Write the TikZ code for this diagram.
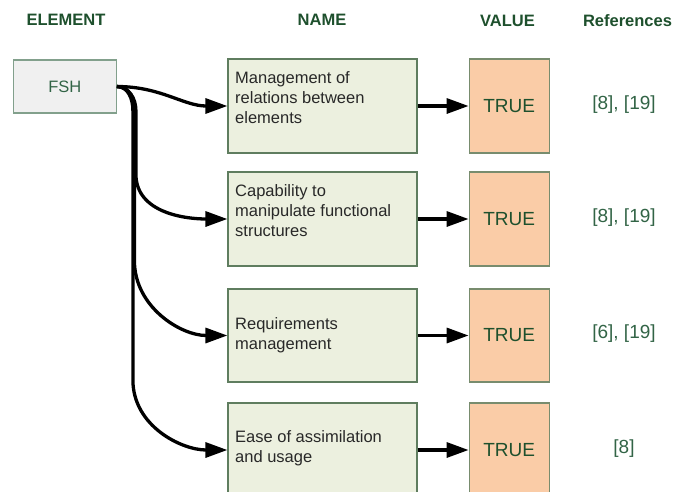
\documentclass[tikz,border=0pt]{standalone}
\usepackage{fontspec}
\setmainfont{Liberation Sans}
\usetikzlibrary{arrows.meta,calc,positioning}
\definecolor{headgreen}{RGB}{30,80,45}
\definecolor{textgreen}{RGB}{50,100,70}
\definecolor{textgrey}{RGB}{40,40,40}
\definecolor{elemfill}{RGB}{240,240,240}
\definecolor{elemline}{RGB}{130,160,140}
\definecolor{namefill}{RGB}{236,240,223}
\definecolor{nameline}{RGB}{95,125,95}
\definecolor{valuefill}{RGB}{250,204,167}
\definecolor{valueline}{RGB}{120,140,110}
\tikzset{
  head/.style={font=\bfseries\fontsize{16.5}{20}\selectfont, text=headgreen},
  elembox/.style={draw=elemline, fill=elemfill, line width=1.2pt,
    minimum width=103pt, minimum height=53pt,
    font=\fontsize{16.5}{20}\selectfont, text=textgreen},
  namebox/.style={draw=nameline, fill=namefill, line width=1.2pt,
    minimum width=189pt, minimum height=94pt},
  nametext/.style={anchor=west, align=left, inner sep=0pt,
    font=\fontsize{16.5}{20}\selectfont, text=textgrey},
  valuebox/.style={draw=valueline, fill=valuefill, line width=1.2pt,
    minimum width=80pt, minimum height=94pt,
    font=\fontsize{19}{22}\selectfont, text=headgreen},
  reftext/.style={font=\fontsize{19}{22}\selectfont, text=textgreen},
  link/.style={line width=3.3pt, -{Triangle[length=22pt,width=15pt]}},
}

\begin{document}
\begin{tikzpicture}[x=1pt,y=1pt,node distance=51pt]
  \useasboundingbox (0,0) rectangle (673,-491);
  % column headers
  \node[head] (hElem) at (66,-20) {ELEMENT};
  \node[head] (hName) at (322,-20) {NAME};
  \node[head] (hValue) at (507.5,-21) {VALUE};
  \node[head] (hRef) at (627.5,-21) {References};
  % element
  \node[elembox] (fsh) at (64.8,-86.5) {FSH};
  % names
  \node[namebox] (n1) at (322.5,-106) {};
  \node[namebox] (n2) at (322.5,-219) {};
  \node[namebox, minimum height=93pt] (n3) at (322.5,-335.5) {};
  \node[namebox] (n4) at (322.5,-450) {};
  \node[nametext] (t1) at (235,-98) {Management of\\relations between\\elements};
  \node[nametext] (t2) at (235,-210.5) {Capability to\\manipulate functional\\structures};
  \node[nametext] (t3) at (235,-335) {Requirements\\management};
  \node[nametext] (t4) at (235,-448) {Ease of assimilation\\and usage};
  % values
  \node[valuebox] (v1) [right=of n1] {TRUE};
  \node[valuebox] (v2) [right=of n2] {TRUE};
  \node[valuebox, minimum height=93pt] (v3) [right=of n3] {TRUE};
  \node[valuebox] (v4) [right=of n4] {TRUE};
  % references
  \node[reftext] (r1) at (624,-105) {[8], [19]};
  \node[reftext] (r2) at (624,-218) {[8], [19]};
  \node[reftext] (r3) at (624,-334) {[6], [19]};
  \node[reftext] (r4) at (624,-449) {[8]};
  % connectors
  \draw[link] (fsh.east) to[out=0,in=180] (n1.west);
  \draw[link] (fsh.east) to[out=0,in=90] ++(19,-24) coordinate (d2)
    -- ($(d2 |- n2.west)+(0,45)$) to[out=-90,in=180] (n2.west);
  \draw[link] (fsh.east) to[out=0,in=90] ++(17.5,-24) coordinate (d3)
    -- ($(d3 |- n3.west)+(0,75)$) to[out=-90,in=180] (n3.west);
  \draw[link] (fsh.east) to[out=0,in=90] ++(16,-24) coordinate (d4)
    -- ($(d4 |- n4.west)+(0,70)$) to[out=-90,in=180] (n4.west);
  \foreach \i in {1,...,4}
    \draw[link] (n\i.east) -- (v\i.west);
\end{tikzpicture}
\end{document}
